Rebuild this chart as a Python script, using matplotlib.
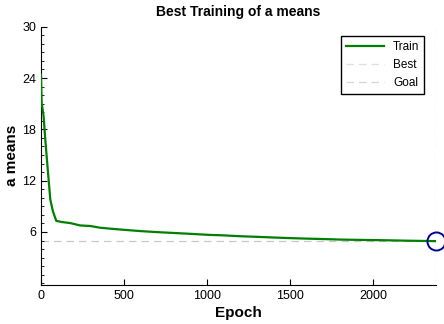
import numpy as np
import matplotlib
matplotlib.use("Agg")
import matplotlib.pyplot as plt
from matplotlib.ticker import MultipleLocator

plt.rcParams['font.family'] = ['Liberation Sans', 'DejaVu Sans']

# training curve (epoch, value)
epochs = [0, 4, 16, 26, 36, 46, 56, 72, 92, 126, 176, 236, 296,
          354, 420, 500, 600, 700, 800, 900, 1000, 1100, 1200, 1300, 1400, 1500,
          1600, 1700, 1800, 1900, 2000, 2100, 2200, 2300, 2376]
train = [24.4, 21.1, 19.5, 16.8, 14.4, 12.1, 9.8, 8.4, 7.3, 7.16, 7.04, 6.76, 6.7,
         6.5, 6.38, 6.25, 6.1, 5.98, 5.88, 5.78, 5.67,
         5.6, 5.5, 5.43, 5.35, 5.28, 5.22, 5.17, 5.11, 5.08, 5.05, 5.02, 4.98, 4.95, 4.93]
best_epoch = 2376
best_value = 4.93

fig = plt.figure(figsize=(4.44, 3.24), dpi=100)
ax = fig.add_axes([0.0923, 0.1204, 0.8897, 0.7972])

ax.axhline(best_value, color='#c8c8c8', ls=(0, (6, 4)), lw=0.9, zorder=1)
ax.axvline(best_epoch, color='#dcdcf2', ls=(0, (6, 4)), lw=0.9, zorder=1)
ax.plot(epochs, train, color='#007f00', lw=1.6, zorder=3, label='Train')
ax.plot(best_epoch, best_value, 'o', ms=13, mfc='none', mec='#00009a', mew=1.4,
        zorder=4, clip_on=False)

# legend proxies
ax.plot([], [], color='#dcdcf2', ls=(0, (6, 4)), lw=0.9, label='Best')
ax.plot([], [], color='#d6d6d6', ls=(0, (6, 4)), lw=0.9, label='Goal')

ax.set_xlim(0, best_epoch)
ax.set_ylim(-0.2, 30)
ax.set_yticks([6, 12, 18, 24, 30])
ax.set_xticks([0, 500, 1000, 1500, 2000])
ax.yaxis.set_minor_locator(MultipleLocator(1))
ax.tick_params(direction='in', length=4, labelsize=9)
ax.tick_params(which='minor', direction='in', length=2)
ax.spines['top'].set_visible(False)
ax.spines['right'].set_visible(False)

ax.set_title('Best Training of a means', fontsize=10, fontweight='bold', pad=8)
ax.set_xlabel('Epoch', fontsize=11, fontweight='bold', labelpad=3)
ax.set_ylabel('a means', fontsize=11, fontweight='bold', labelpad=2)

leg = ax.legend(loc='upper right', fontsize=8.5, fancybox=False, framealpha=1,
                edgecolor='black', handlelength=3.2, borderpad=0.4,
                bbox_to_anchor=(0.985, 0.985))
leg.get_frame().set_linewidth(1.0)

fig.savefig('out.png', dpi=100)
